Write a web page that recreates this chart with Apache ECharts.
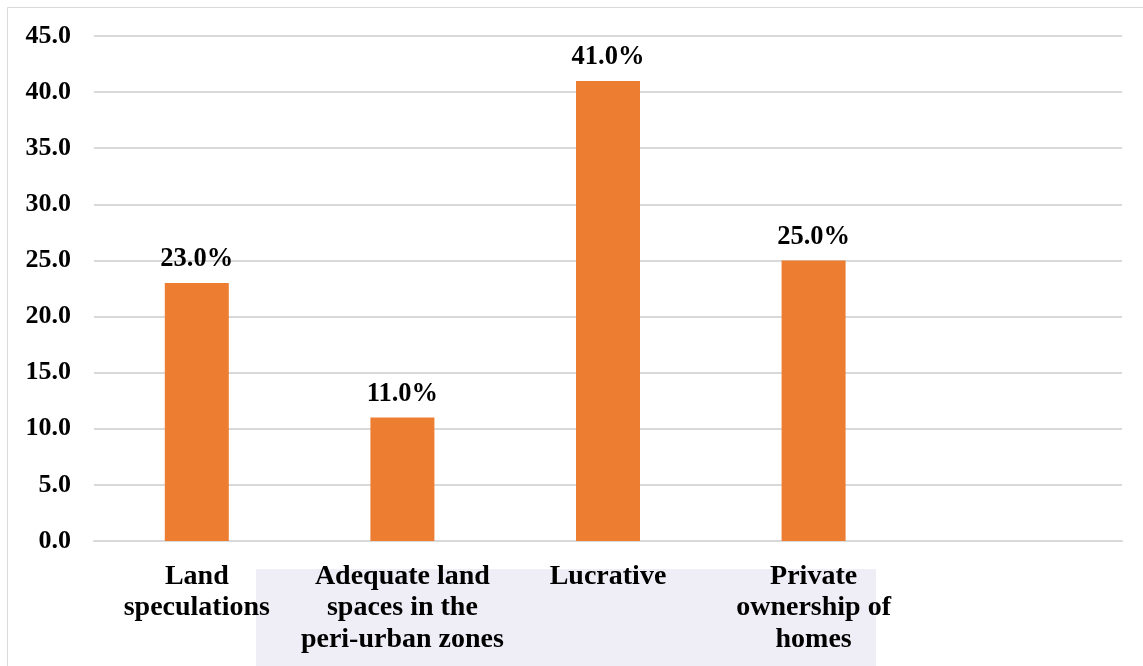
<!DOCTYPE html>
<html>
<head>
<meta charset="utf-8">
<script src="https://cdn.jsdelivr.net/npm/echarts@6/dist/echarts.min.js"></script>
<style>
html,body{margin:0;padding:0;background:#fff;}
#chart{width:1143px;height:666px;}
</style>
</head>
<body>
<div id="chart"></div>
<script>
const categories = ['Land\nspeculations', 'Adequate land\nspaces in the\nperi-urban zones', 'Lucrative', 'Private\nownership of\nhomes', ''];
const values = [23.0, 11.0, 41.0, 25.0, null];
const yTicks = { min: 0, max: 45, interval: 5 };

const font = '"Liberation Serif", "Times New Roman", serif';
const chart = echarts.init(document.getElementById('chart'), null, { renderer: 'canvas' });
chart.setOption({
  backgroundColor: '#ffffff',
  animation: false,
  graphic: [
    { type: 'rect', z: -10, silent: true, shape: { x: 7.5, y: 7.5, width: 1150, height: 700 },
      style: { fill: '#ffffff', stroke: '#d9d9d9', lineWidth: 1 } },
    { type: 'rect', z: -9, silent: true, shape: { x: 256, y: 569, width: 620, height: 97 },
      style: { fill: '#efeef6' } }
  ],
  grid: { left: 94, right: 21, top: 36, bottom: 125, containLabel: false },
  xAxis: {
    type: 'category',
    data: categories,
    axisLine: { show: true, lineStyle: { color: '#d9d9d9', width: 2 } },
    axisTick: { show: false },
    axisLabel: {
      interval: 0, margin: 20, color: '#000', fontFamily: font, fontWeight: 'bold',
      fontSize: 28, lineHeight: 31.5
    },
    splitLine: { show: false }
  },
  yAxis: {
    type: 'value',
    min: yTicks.min, max: yTicks.max, interval: yTicks.interval,
    axisLine: { show: false },
    axisTick: { show: false },
    axisLabel: {
      margin: 23, color: '#000', fontFamily: font, fontWeight: 'bold', fontSize: 26,
      formatter: v => v.toFixed(1)
    },
    splitLine: { show: true, lineStyle: { color: '#d9d9d9', width: 2 } }
  },
  series: [{
    type: 'bar',
    data: values,
    barWidth: 64,
    itemStyle: { color: '#ED7D31' },
    label: {
      show: true, position: 'top', distance: 10, color: '#000', fontFamily: font,
      fontWeight: 'bold', fontSize: 26.5,
      formatter: p => p.value == null ? '' : p.value.toFixed(1) + '%'
    }
  }]
});
</script>
</body>
</html>
